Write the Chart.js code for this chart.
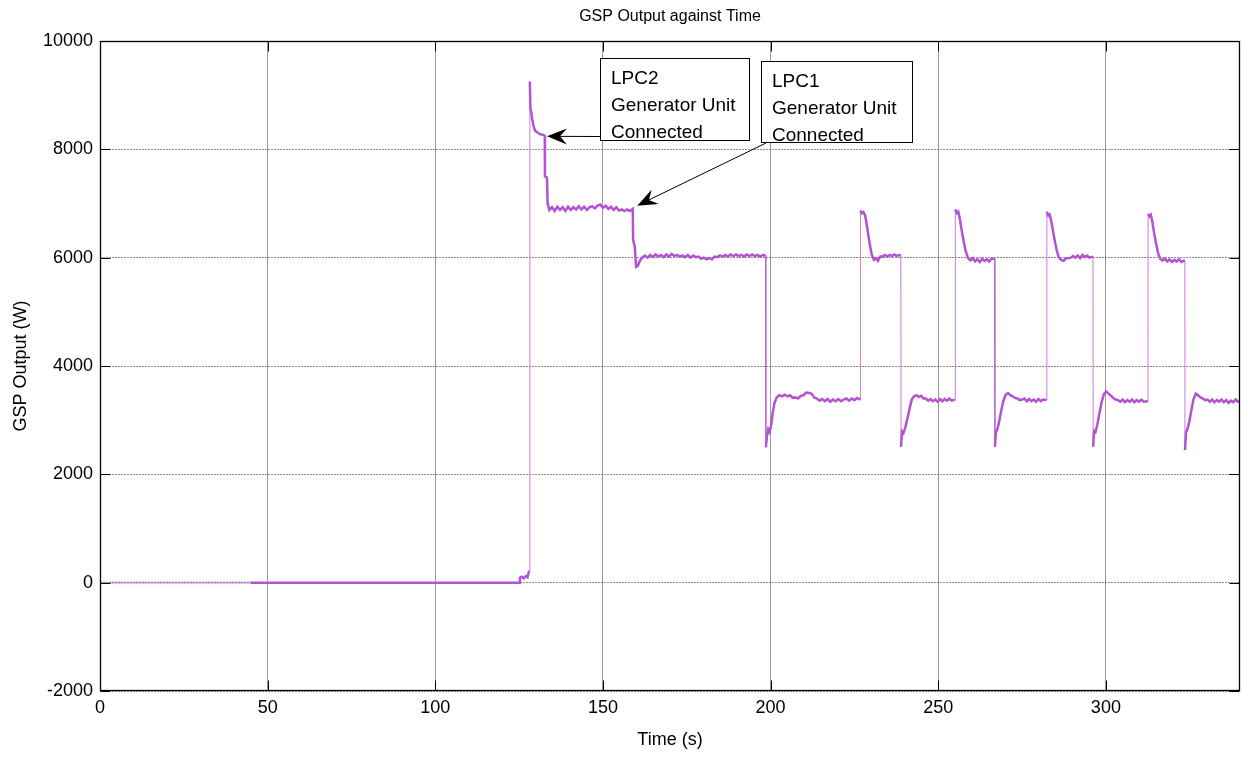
<!DOCTYPE html>
<html>
<head>
<meta charset="utf-8">
<title>GSP Output against Time</title>
<script src="https://cdn.jsdelivr.net/npm/chart.js@4.4.1/dist/chart.umd.min.js"></script>
<style>
  html, body { margin: 0; padding: 0; background: #fff; }
  #wrap { width: 1248px; height: 758px; }
</style>
</head>
<body>
<div id="wrap"><canvas id="gsp" width="1248" height="758"></canvas></div>
<script>
// ---- axis ticks ----
const xTicks = [0, 50, 100, 150, 200, 250, 300];
const yTicks = [-2000, 0, 2000, 4000, 6000, 8000, 10000];

// ---- GSP output trace, [time (s), power (W)] ----
const standby = [[0, 0], [45, 0], [90, 0], [125.2, 0]];
const rampUp = [[125.25, 90], [125.8, 110], [126.4, 80], [127.0, 120], [127.5, 100], [127.9, 200], [128.15, 210]];
const lpc2Peak = [[128.2, 9250], [128.35, 8760], [128.6, 8700], [128.9, 8560], [129.3, 8430], [129.8, 8340],
  [130.5, 8310], [131.2, 8280], [132.0, 8270], [132.65, 8250]];
const lpc2Plateau = [[132.7, 7500], [133.3, 7480], [133.5, 7000], [134.0, 6880], [134.8, 6930], [135.6, 6860],
  [136.4, 6940], [137.2, 6880], [138.0, 6930], [138.8, 6860], [139.6, 6940], [140.4, 6880], [141.2, 6930],
  [142.0, 6890], [142.8, 6950], [143.6, 6890], [144.4, 6940], [145.2, 6880], [146.0, 6930], [146.8, 6950],
  [147.6, 6910], [148.4, 6960], [149.2, 6980], [150.0, 6920], [150.8, 6960], [151.6, 6900], [152.4, 6940],
  [153.2, 6880], [154.0, 6930], [154.8, 6870], [155.6, 6890], [156.4, 6860], [157.2, 6890], [158.0, 6860],
  [158.9, 6900]];
const lpc1Plateau = [[159.0, 6330], [159.5, 6200], [159.9, 5830], [160.4, 5850], [161.0, 5940], [161.7, 6000],
  [162.5, 6040], [163.3, 6000], [164.1, 6050], [164.9, 6010], [165.7, 6060], [166.5, 6020], [167.3, 6050],
  [168.1, 6010], [168.9, 6060], [169.7, 6020], [170.5, 6070], [171.3, 6030], [172.1, 6050], [172.9, 6020],
  [173.7, 6040], [174.5, 6010], [175.3, 6050], [176.1, 6000], [176.9, 6040], [177.7, 6010], [178.5, 6020],
  [179.3, 5980], [180.1, 6000], [180.9, 5970], [181.7, 5990], [182.5, 5970], [183.3, 6020], [184.1, 6010],
  [184.9, 6040], [185.7, 6020], [186.5, 6050], [187.3, 6020], [188.1, 6060], [188.9, 6030], [189.7, 6060],
  [190.5, 6030], [191.3, 6050], [192.1, 6020], [192.9, 6060], [193.7, 6030], [194.5, 6060], [195.3, 6030],
  [196.1, 6050], [196.9, 6020], [197.7, 6050], [198.5, 6040]];
const low1 = [[198.6, 2500], [198.9, 2700], [199.3, 2830], [199.7, 2780], [200.2, 2920], [200.6, 3120],
  [201.1, 3300], [201.8, 3420], [202.6, 3460], [203.4, 3440], [204.2, 3470], [205.0, 3440], [205.8, 3460],
  [206.6, 3410], [207.4, 3420], [208.2, 3400], [209.0, 3450], [209.8, 3460], [210.6, 3510], [211.4, 3500],
  [212.2, 3490], [213.0, 3420], [213.8, 3400], [214.6, 3360], [215.4, 3390], [216.2, 3350], [217.0, 3390],
  [217.8, 3340], [218.6, 3380], [219.4, 3350], [220.2, 3390], [221.0, 3350], [221.8, 3380], [222.6, 3400],
  [223.4, 3360], [224.2, 3400], [225.0, 3370], [225.8, 3410], [226.7, 3380]];
const high1 = [[226.8, 6870], [227.2, 6820], [227.7, 6840], [228.2, 6780], [228.7, 6600], [229.2, 6400],
  [229.7, 6200], [230.2, 6050], [230.8, 5960], [231.4, 5990], [232.0, 5940], [232.7, 6020], [233.4, 6020],
  [234.1, 6050], [234.8, 6020], [235.5, 6050], [236.2, 6030], [236.9, 6060], [237.6, 6030], [238.3, 6050],
  [238.85, 6040]];
const low2 = [[238.9, 2510], [239.2, 2790], [239.6, 2760], [240.1, 2850], [240.7, 3000], [241.4, 3200],
  [242.1, 3380], [242.8, 3440], [243.5, 3460], [244.2, 3430], [244.9, 3450], [245.6, 3400], [246.3, 3400],
  [247.0, 3360], [247.7, 3390], [248.4, 3350], [249.1, 3380], [249.8, 3340], [250.5, 3390], [251.2, 3350],
  [251.9, 3390], [252.6, 3360], [253.3, 3400], [254.0, 3360], [255.0, 3380]];
const high2 = [[255.1, 6890], [255.5, 6820], [256.0, 6850], [256.5, 6700], [257.0, 6500], [257.6, 6300],
  [258.2, 6120], [258.9, 5990], [259.6, 5950], [260.3, 5990], [261.0, 5930], [261.7, 5970], [262.4, 5920],
  [263.1, 5980], [263.8, 5940], [264.5, 5970], [265.2, 5930], [265.9, 5980], [266.85, 5980]];
const low3 = [[266.9, 2510], [267.2, 2780], [267.6, 2830], [268.1, 2950], [268.7, 3150], [269.4, 3350],
  [270.1, 3470], [270.8, 3500], [271.5, 3460], [272.2, 3440], [272.9, 3410], [273.6, 3400], [274.3, 3370],
  [275.0, 3380], [275.7, 3400], [276.4, 3350], [277.1, 3390], [277.8, 3350], [278.5, 3380], [279.2, 3340],
  [279.9, 3390], [280.6, 3350], [281.3, 3380], [282.35, 3370]];
const high3 = [[282.4, 6850], [282.8, 6780], [283.2, 6800], [283.7, 6680], [284.2, 6500], [284.8, 6300],
  [285.4, 6120], [286.0, 6000], [286.7, 5960], [287.4, 5940], [288.1, 5990], [288.8, 5990], [289.5, 6000],
  [290.2, 6030], [290.9, 6000], [291.6, 6040], [292.3, 5990], [293.0, 6050], [293.7, 6010], [294.4, 6040],
  [295.1, 6000], [296.15, 6020]];
const low4 = [[296.2, 2510], [296.5, 2800], [296.9, 2780], [297.4, 2900], [298.0, 3100], [298.7, 3330],
  [299.4, 3480], [300.1, 3530], [300.8, 3490], [301.5, 3450], [302.2, 3410], [302.9, 3380], [303.6, 3370],
  [304.3, 3340], [305.0, 3380], [305.7, 3330], [306.4, 3370], [307.1, 3340], [307.8, 3380], [308.5, 3330],
  [309.2, 3370], [309.9, 3340], [310.6, 3380], [311.3, 3340], [312.55, 3350]];
const high4 = [[312.6, 6810], [313.0, 6760], [313.4, 6790], [313.9, 6650], [314.4, 6450], [315.0, 6250],
  [315.6, 6080], [316.2, 5980], [316.9, 5950], [317.6, 5980], [318.3, 5930], [319.0, 5970], [319.7, 5920],
  [320.4, 5960], [321.1, 5930], [321.8, 5970], [322.5, 5920], [323.55, 5950]];
const low5 = [[323.6, 2450], [323.9, 2780], [324.3, 2830], [324.8, 2950], [325.4, 3150], [326.1, 3380],
  [326.8, 3490], [327.5, 3460], [328.2, 3420], [328.9, 3400], [329.6, 3370], [330.3, 3380], [331.0, 3340],
  [331.7, 3380], [332.4, 3330], [333.1, 3370], [333.8, 3340], [334.5, 3380], [335.2, 3330], [335.9, 3370],
  [336.6, 3320], [337.3, 3360], [338.0, 3330], [338.7, 3380], [339.4, 3340], [340.0, 3360]];

// ---- callouts: text lines and the trace point each arrow marks ----
const calloutText = [
  ['LPC2', 'Generator Unit', 'Connected'],
  ['LPC1', 'Generator Unit', 'Connected']
];
const calloutTarget = [[133.3, 8240], [160.2, 6960]];

const trace = [].concat(standby, rampUp, lpc2Peak, lpc2Plateau, lpc1Plateau,
  low1, high1, low2, high2, low3, high3, low4, high4, low5)
  .map(([x, y]) => ({ x, y }));

const FONT = '"Liberation Sans", Arial, Helvetica, sans-serif';
const LINE = 'rgb(180, 82, 210)';
Chart.defaults.font.family = FONT;
Chart.defaults.color = '#000';

const isJump = c => Math.abs(c.p1.parsed.x - c.p0.parsed.x) < 0.2 &&
  Math.abs(c.p1.parsed.y - c.p0.parsed.y) > 1500;

// axes frame, inward tick marks, title and callout boxes
const decorations = {
  id: 'decorations',
  afterDatasetsDraw(chart) {
    const { ctx, chartArea: a, scales: { x, y } } = chart;
    const L = Math.round(a.left) + 0.5, R = Math.round(a.right) - 0.5;
    const T = Math.round(a.top) + 0.5, B = Math.round(a.bottom) - 0.5;
    ctx.save();
    ctx.strokeStyle = '#000';
    ctx.lineWidth = 1;
    ctx.beginPath();
    xTicks.forEach(v => {
      const px = Math.round(x.getPixelForValue(v)) + 0.5;
      ctx.moveTo(px, B); ctx.lineTo(px, B - 10);
      ctx.moveTo(px, T); ctx.lineTo(px, T + 10);
    });
    yTicks.forEach(v => {
      const py = Math.round(y.getPixelForValue(v)) + 0.5;
      ctx.moveTo(L, py); ctx.lineTo(L + 10, py);
      ctx.moveTo(R, py); ctx.lineTo(R - 10, py);
    });
    ctx.stroke();
    ctx.lineWidth = 1.3;
    ctx.strokeRect(L, T, R - L, B - T);

    // title
    ctx.fillStyle = '#000';
    ctx.font = '16px ' + FONT;
    ctx.textAlign = 'center';
    ctx.textBaseline = 'middle';
    ctx.fillText('GSP Output against Time', (a.left + a.right) / 2, 17);

    // callouts
    const boxes = [
      { left: 600, top: 58, right: 749, bottom: 140, from: [600, 136.5] },
      { left: 761, top: 61, right: 912, bottom: 142, from: [766, 143] }
    ];
    ctx.textAlign = 'left';
    ctx.font = '19px ' + FONT;
    boxes.forEach((b, i) => {
      ctx.lineWidth = 1;
      ctx.fillStyle = '#fff';
      ctx.fillRect(b.left, b.top, b.right - b.left, b.bottom - b.top);
      ctx.strokeStyle = '#000';
      ctx.strokeRect(b.left + 0.5, b.top + 0.5, b.right - b.left, b.bottom - b.top);
      ctx.fillStyle = '#000';
      calloutText[i].forEach((t, k) => ctx.fillText(t, b.left + 11, b.top + 21 + k * 27));

      const tx = x.getPixelForValue(calloutTarget[i][0]);
      const ty = y.getPixelForValue(calloutTarget[i][1]);
      const [sx, sy] = b.from;
      const len = Math.hypot(tx - sx, ty - sy);
      const ux = (tx - sx) / len, uy = (ty - sy) / len;
      const nx = -uy, ny = ux;
      const H = 20, W = 8, N = 7;
      ctx.beginPath();
      ctx.moveTo(sx, sy);
      ctx.lineTo(tx - ux * (H - N), ty - uy * (H - N));
      ctx.stroke();
      ctx.beginPath();
      ctx.moveTo(tx, ty);
      ctx.lineTo(tx - ux * H + nx * W, ty - uy * H + ny * W);
      ctx.lineTo(tx - ux * (H - N), ty - uy * (H - N));
      ctx.lineTo(tx - ux * H - nx * W, ty - uy * H - ny * W);
      ctx.closePath();
      ctx.fill();
    });
    ctx.restore();
  }
};

new Chart(document.getElementById('gsp'), {
  type: 'line',
  data: {
    datasets: [{
      label: 'GSP Output',
      data: trace,
      borderColor: LINE,
      borderWidth: 2.5,
      pointRadius: 0,
      tension: 0,
      fill: false,
      segment: {
        borderWidth: c => isJump(c) ? 1 : undefined,
        borderColor: c => c.p1.parsed.x <= 45 ? 'rgba(180, 82, 210, 0.35)'
          : (isJump(c) ? 'rgba(180, 82, 210, 0.75)' : undefined)
      }
    }]
  },
  options: {
    responsive: false,
    animation: false,
    devicePixelRatio: 1,
    layout: { padding: { top: 41, right: 8, left: 0, bottom: 0 } },
    plugins: { legend: { display: false }, tooltip: { enabled: false }, title: { display: false } },
    scales: {
      x: {
        type: 'linear',
        min: 0,
        max: 340,
        afterBuildTicks: s => { s.ticks = xTicks.map(v => ({ value: v })); },
        afterFit: s => { s.height = 67; },
        grid: { color: 'rgba(0,0,0,0.4)', lineWidth: 1, drawTicks: false },
        border: { display: false },
        ticks: { font: { size: 18 }, padding: 6, maxRotation: 0, color: '#000' },
        title: { display: true, text: 'Time (s)', font: { size: 18 }, padding: { top: 0, bottom: 7 }, color: '#000' }
      },
      y: {
        min: -2000,
        max: 10000,
        afterBuildTicks: s => { s.ticks = yTicks.map(v => ({ value: v })); },
        afterFit: s => { s.width = 100; },
        grid: { color: 'rgba(0,0,0,0.45)', lineWidth: 1, drawTicks: false },
        border: { display: false, dash: [2, 1] },
        ticks: { font: { size: 18 }, padding: 7, color: '#000', callback: v => String(v) },
        title: { display: true, text: 'GSP Output (W)', font: { size: 18 }, padding: { top: 10, bottom: 0 }, color: '#000' }
      }
    }
  },
  plugins: [decorations]
});
</script>
</body>
</html>
